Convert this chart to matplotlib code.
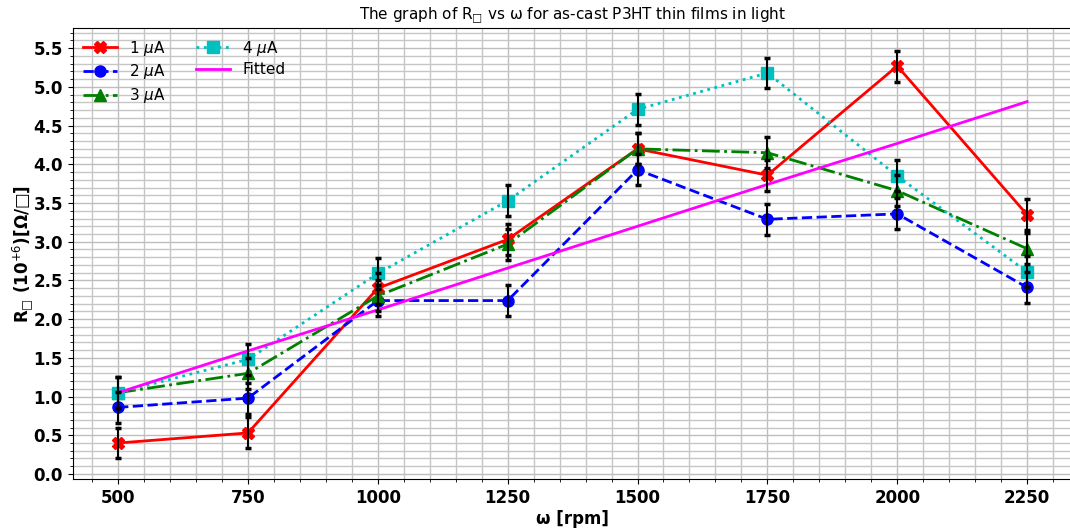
import matplotlib
matplotlib.use("Agg")
import matplotlib.pyplot as plt
from matplotlib.ticker import MultipleLocator

rpm = [500, 750, 1000, 1250, 1500, 1750, 2000, 2250]
r_1ua = [0.40, 0.53, 2.40, 3.03, 4.20, 3.86, 5.27, 3.35]
r_2ua = [0.86, 0.98, 2.24, 2.24, 3.93, 3.29, 3.36, 2.41]
r_3ua = [1.05, 1.30, 2.30, 2.97, 4.20, 4.15, 3.66, 2.91]
r_4ua = [1.05, 1.48, 2.59, 3.53, 4.71, 5.18, 3.85, 2.61]
r_fit = [1.05, 1.59, 2.12, 2.66, 3.20, 3.74, 4.27, 4.81]
err = 0.2

fig = plt.figure(figsize=(10.7, 5.28), dpi=100)
# right edge of the axes falls just outside the picture, as in the original crop
ax = fig.add_axes([0.0679, 0.0928, 0.935, 0.854])

series = [
    (r_1ua, "r", "X", "-", r"1 $\mu$A"),
    (r_2ua, "b", "o", "--", r"2 $\mu$A"),
    (r_3ua, "g", "^", "-.", r"3 $\mu$A"),
    (r_4ua, "c", "s", ":", r"4 $\mu$A"),
]
for ys, c, m, ls, lab in series:
    ax.plot(rpm, ys, color=c, marker=m, linestyle=ls, linewidth=2,
            markersize=8, label=lab, zorder=3)
ax.plot(rpm, r_fit, color="#ff00ff", linewidth=2, label="Fitted", zorder=3)
for ys, *_ in series:
    ax.errorbar(rpm, ys, yerr=err, fmt="none", ecolor="k", elinewidth=1.5,
                capsize=2.5, capthick=2.5, zorder=4)

ax.set_xlim(412.5, 2338.6)
ax.set_ylim(-0.065, 5.76)
ax.xaxis.set_major_locator(MultipleLocator(250))
ax.xaxis.set_minor_locator(MultipleLocator(50))
ax.yaxis.set_major_locator(MultipleLocator(0.5))
ax.yaxis.set_minor_locator(MultipleLocator(0.1))
ax.grid(which="major", color="#bdbdbd", linewidth=1.0)
ax.grid(which="minor", color="#c6c6c6", linewidth=1.0)
ax.set_axisbelow(True)
for lab in ax.get_xticklabels() + ax.get_yticklabels():
    lab.set_fontweight("bold")
ax.tick_params(labelsize=12)

ax.set_xlabel("ω [rpm]", fontsize=12, fontweight="bold", labelpad=2)
ax.set_ylabel("R$_{\u25a1}$ (10$^{+6}$)[Ω/\u25a1]", fontsize=12, fontweight="bold", labelpad=-2)
ax.set_title("The graph of R$_{\u25a1}$ vs ω for as-cast P3HT thin films in light", fontsize=11)
ax.legend(loc="upper left", ncol=2, frameon=False, fontsize=11,
          handlelength=2.2, columnspacing=2.0, borderaxespad=0.3, labelspacing=0.3)

fig.savefig("out.png", dpi=100)
